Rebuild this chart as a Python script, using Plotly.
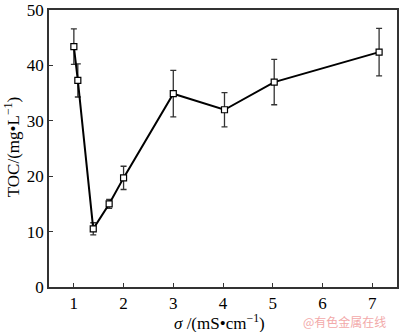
import plotly.graph_objects as go

sigma = [1.0, 1.08, 1.39, 1.71, 2.0, 3.0, 4.03, 5.03, 7.14]
toc = [43.4, 37.3, 10.5, 15.0, 19.7, 34.9, 32.0, 37.0, 42.4]
err = [3.2, 3.0, 1.1, 0.8, 2.1, 4.2, 3.1, 4.1, 4.3]
xticks = [1, 2, 3, 4, 5, 6, 7]
yticks = [0, 10, 20, 30, 40, 50]

font = "Liberation Serif, Times New Roman, serif"

fig = go.Figure()
fig.add_trace(go.Scatter(
    x=sigma, y=toc, mode="lines+markers",
    line=dict(color="black", width=2),
    marker=dict(symbol="square", size=6, color="white",
                line=dict(color="black", width=1.2)),
    error_y=dict(type="data", array=err, visible=True,
                 color="#333333", thickness=1.3, width=3),
    showlegend=False,
))

axis_common = dict(
    showline=True, linecolor="#333333", linewidth=1.5, mirror=True,
    ticks="inside", ticklen=4, tickcolor="#333333", tickwidth=1.2,
    showgrid=False, zeroline=False, ticklabeloverflow="allow",
    tickfont=dict(family=font, size=17, color="black"),
)

fig.update_layout(
    width=400, height=332,
    margin=dict(l=49, r=1, t=6, b=45),
    paper_bgcolor="white", plot_bgcolor="white",
    xaxis=dict(range=[0.5, 7.5], tickvals=xticks, **axis_common),
    yaxis=dict(range=[0, 50.01], tickvals=yticks, **axis_common),
    annotations=[
        dict(text="<i>σ</i> /(mS•cm<sup>−1</sup>)", xref="paper", yref="paper",
             x=(220 - 49) / 350, y=(332 - 45 - 322) / 281, xanchor="center", yanchor="middle",
             showarrow=False, font=dict(family=font, size=17, color="black")),
        dict(text="TOC/(mg•L<sup>−1</sup>)", xref="paper", yref="paper",
             x=(12 - 49) / 350, y=(287 - 145) / 281, xanchor="center", yanchor="middle",
             textangle=-90, showarrow=False,
             font=dict(family=font, size=17, color="black")),
        dict(text="@有色金属在线", xref="paper", yref="paper",
             x=(346 - 49) / 350, y=(287 - 322) / 281, xanchor="center", yanchor="middle",
             showarrow=False,
             font=dict(family="Noto Sans CJK SC", size=12, color="#f2a9a9")),
    ],
)

fig.write_html("out.html")
